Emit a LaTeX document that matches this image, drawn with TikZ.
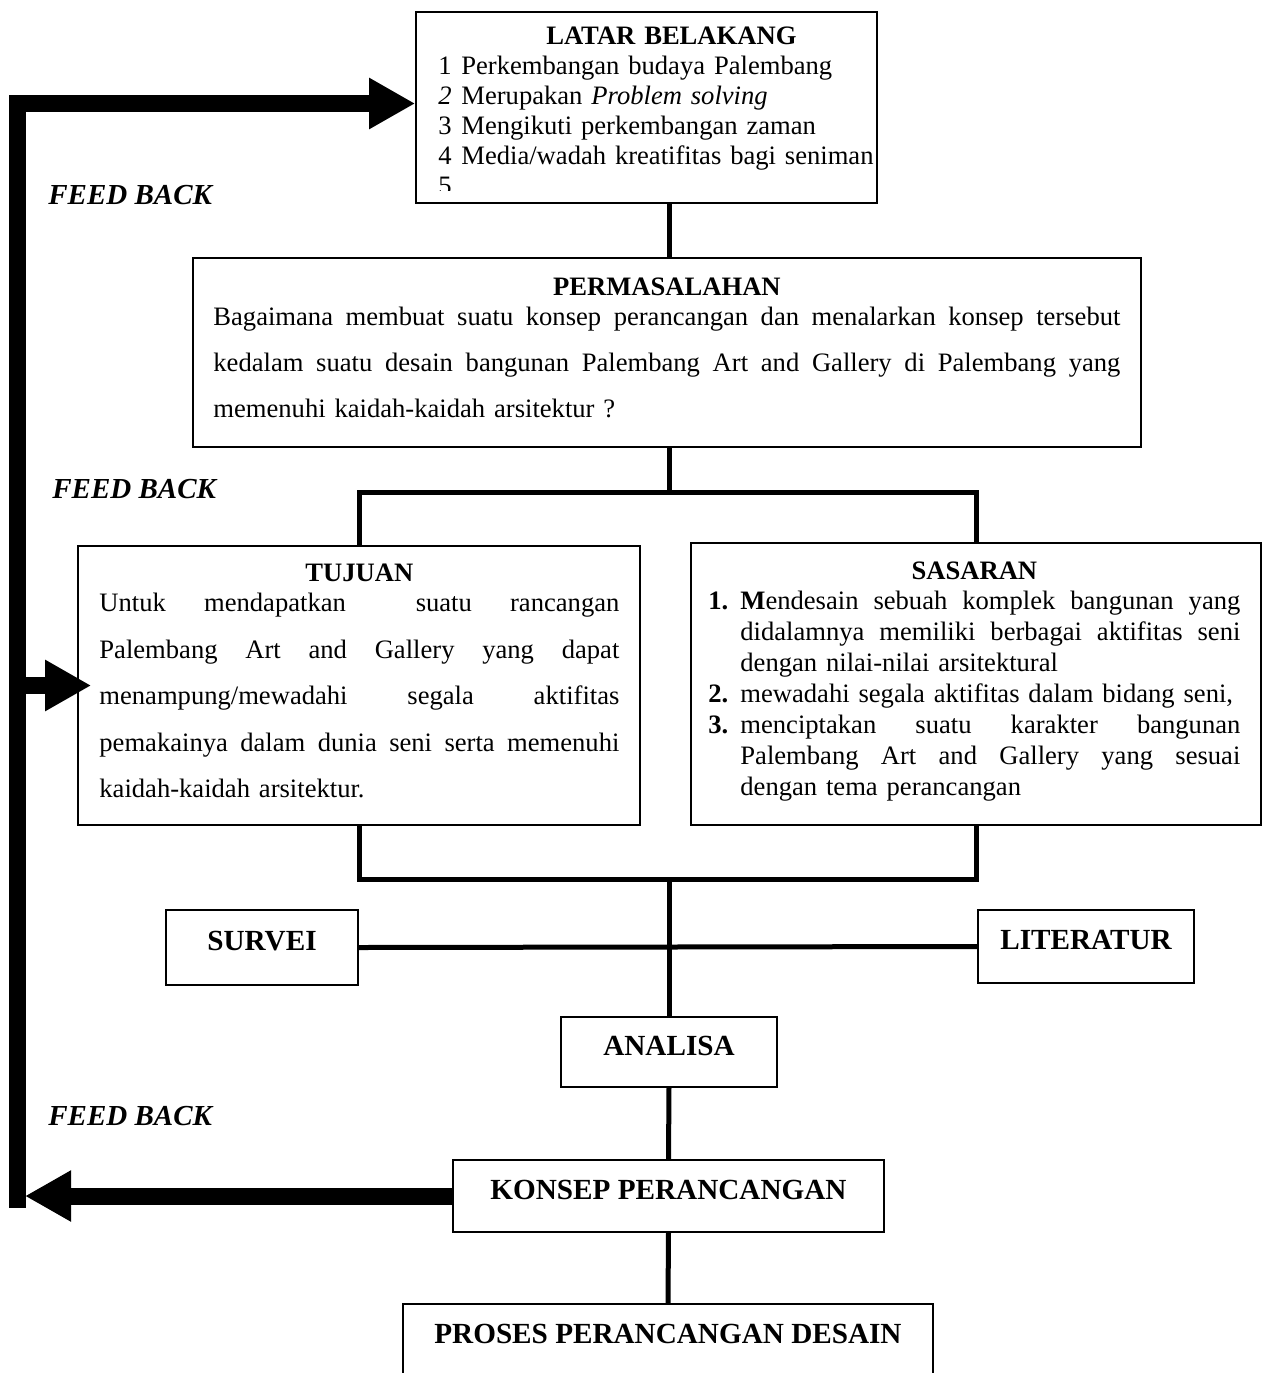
\documentclass[tikz,border=0pt]{standalone}
\usepackage{fontspec}
\setmainfont{Liberation Serif}
\usetikzlibrary{arrows.meta,positioning,calc}
\newcommand{\fnisi}{\fontsize{13.3}{15}\selectfont}
\newcommand{\fnjudul}{\fontsize{14.6}{16}\selectfont\bfseries}
% baris rata kiri-kanan
\newcommand{\rata}[2][\linewidth]{\leavevmode\hbox to #1{\spaceskip=0.25em plus 1fil\relax #2}}

\tikzset{
kotak/.style = {draw, line width=0.8pt, inner sep=0pt},
satubaris/.style = {kotak, font=\fnjudul, text height=10pt, text depth=7pt},
isi/.style = {inner sep=0pt, anchor=north west, align=left, font=\fnisi},
garis/.style = {line width=2.5pt},
balik/.style = {line width=8.5pt},
panah/.style = {balik, -{Triangle[length=23pt,width=24pt]}},
feedback/.style = {font=\fontsize{14.5}{16}\selectfont\bfseries\itshape, inner sep=0pt, anchor=west}}

\begin{document}
\begin{tikzpicture}[x=0.5pt, y=-0.5pt]
\useasboundingbox (0,0) rectangle (1263,1373);
\clip (0,0) rectangle (1263,1373);

% kotak utama
\node[kotak, minimum width=230.5pt, minimum height=95.5pt] (latar) at (646.5,107.5) {};
\node[kotak, minimum width=474pt, minimum height=94.5pt] (masalah) at (667,352.5) {};
\node[kotak, minimum width=281pt, minimum height=139.5pt] (tujuan) at (359,685.5) {};
\node[kotak, minimum width=285pt, minimum height=141pt] (sasaran) at (976,684) {};

\node[satubaris, minimum width=96pt, minimum height=37.5pt] (survei) at (262,947.5) {SURVEI};
\node[satubaris, minimum width=108pt, minimum height=36.5pt] (literatur) at (1086,946.5) {LITERATUR};
\node[satubaris, minimum width=108pt, minimum height=35pt] (analisa) at (669,1052) {ANALISA};
\node[satubaris, minimum width=215.5pt, minimum height=36pt] (konsep) at (668.5,1196) {KONSEP PERANCANGAN};
\node[satubaris, minimum width=265pt, text depth=40pt, inner ysep=9.85pt, anchor=north] (proses) at (668,1303) {PROSES PERANCANGAN DESAIN};

% isi kotak
\begin{scope}
\clip (latar.north west) rectangle ($(latar.south east)+(0,6.5pt)$);
\node[isi, text width=233pt] (latarisi) at (438,26) {\makebox[\linewidth]{\bfseries LATAR BELAKANG}\\
\makebox[11.5pt][l]{1}Perkembangan budaya Palembang\\
\makebox[11.5pt][l]{\itshape 2}Merupakan \textit{Problem solving}\\
\makebox[11.5pt][l]{3}Mengikuti perkembangan zaman\\
\makebox[11.5pt][l]{4}Media/wadah kreatifitas bagi seniman\\
\makebox[11.5pt][l]{5}};
\end{scope}

\node[isi, text width=453.5pt] (masalahisi) at (213,277) {\makebox[\linewidth]{\bfseries PERMASALAHAN}\\
\rata{Bagaimana membuat suatu konsep perancangan dan menalarkan konsep tersebut}\\[8pt]
\rata{kedalam suatu desain bangunan Palembang Art and Gallery di Palembang yang}\\[8pt]
memenuhi kaidah-kaidah arsitektur ?};

\node[isi, text width=260pt] (tujuanisi) at (99,564) {\makebox[\linewidth]{\bfseries TUJUAN}\\
\rata{Untuk mendapatkan \hskip 0pt plus 1fil suatu rancangan}\\[8.2pt]
\rata{Palembang Art and Gallery yang dapat}\\[8.2pt]
\rata{menampung/mewadahi segala aktifitas}\\[8.2pt]
\rata{pemakainya dalam dunia seni serta memenuhi}\\[8.2pt]
kaidah-kaidah arsitektur.};

\node[isi, text width=266pt, font=\fontsize{13.3}{15.5}\selectfont] (sasaranisi) at (708,561) {\makebox[\linewidth]{\bfseries SASARAN}\\[-0.5pt]
\makebox[16pt][l]{\bfseries 1.}\rata[250pt]{\textbf{M}endesain sebuah komplek bangunan yang}\\
\hspace*{16pt}\rata[250pt]{didalamnya memiliki berbagai aktifitas seni}\\
\hspace*{16pt}dengan nilai-nilai arsitektural\\
\makebox[16pt][l]{\bfseries 2.}mewadahi segala aktifitas dalam bidang seni,\\
\makebox[16pt][l]{\bfseries 3.}\rata[250pt]{menciptakan suatu karakter bangunan}\\
\hspace*{16pt}\rata[250pt]{Palembang Art and Gallery yang sesuai}\\
\hspace*{16pt}dengan tema perancangan};

% garis penghubung
\coordinate (cabang) at (669,492);
\coordinate (gabung) at (669,879);
\draw[garis] (latar.south -| analisa) -- (masalah.north -| analisa);
\draw[garis] (masalah.south -| analisa) -- (cabang);
\draw[garis] (tujuan.north) |- (cabang) -| (sasaran.north);
\draw[garis] (tujuan.south) |- (gabung) -| (sasaran.south);
\draw[garis] (gabung) -- (analisa.north);
\draw[garis] (survei.east) -- (literatur.west);
\draw[garis] (analisa.south) -- (konsep.north);
\draw[garis] (konsep.south) -- (proses.north);

% feed back
\coordinate (fbatas) at (17,103.5);
\coordinate (fbbawah) at (17,1199.5);
\draw[balik, line cap=rect] (fbatas) -- (fbbawah);
\draw[panah] (fbatas) -- (fbatas -| latar.west);
\draw[panah, shorten >=-7pt] (fbatas |- tujuan.west) -- (tujuan.west);
\draw[panah, shorten >=4pt] (konsep.west) -- (fbatas |- konsep.west);

\node[feedback] (fb1) at (48,195) {FEED BACK};
\node[feedback] (fb2) at (52,489) {FEED BACK};
\node[feedback] (fb3) at (48,1116) {FEED BACK};
\end{tikzpicture}
\end{document}
